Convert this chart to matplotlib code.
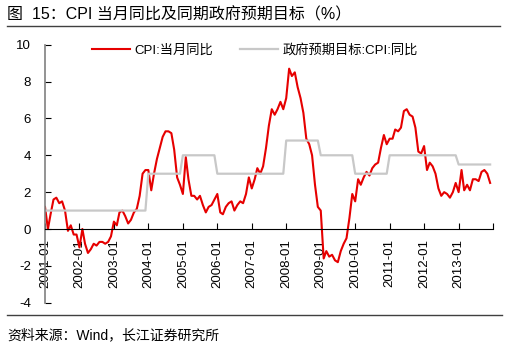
import numpy as np
import pandas as pd
import matplotlib
matplotlib.use("Agg")
import matplotlib.pyplot as plt
from matplotlib.lines import Line2D

plt.rcParams['font.family'] = ['Liberation Sans', 'Noto Sans CJK SC', 'DejaVu Sans']
plt.rcParams['axes.unicode_minus'] = False

# monthly CPI yoy, 2001-01 .. 2013-12
cpi = [
    1.2, 0.0, 0.8, 1.6, 1.7, 1.4, 1.5, 1.0, -0.1, 0.2, -0.3, -0.3,     # 2001
    -1.0, 0.0, -0.8, -1.3, -1.1, -0.8, -0.9, -0.7, -0.7, -0.8, -0.7, -0.4,  # 2002
    0.4, 0.2, 0.9, 1.0, 0.7, 0.3, 0.5, 0.9, 1.1, 1.8, 3.0, 3.2,        # 2003
    3.2, 2.1, 3.0, 3.8, 4.4, 5.0, 5.3, 5.3, 5.2, 4.3, 2.8, 2.4,        # 2004
    1.9, 3.9, 2.7, 1.8, 1.8, 1.6, 1.8, 1.3, 0.9, 1.2, 1.3, 1.6,        # 2005
    1.9, 0.9, 0.8, 1.2, 1.4, 1.5, 1.0, 1.3, 1.5, 1.4, 1.9, 2.8,        # 2006
    2.2, 2.7, 3.3, 3.0, 3.4, 4.4, 5.6, 6.5, 6.2, 6.5, 6.9, 6.5,        # 2007
    7.1, 8.7, 8.3, 8.5, 7.7, 7.1, 6.3, 4.9, 4.6, 4.0, 2.4, 1.2,        # 2008
    1.0, -1.6, -1.2, -1.5, -1.4, -1.7, -1.8, -1.2, -0.8, -0.5, 0.6, 1.9,  # 2009
    1.5, 2.7, 2.4, 2.8, 3.1, 2.9, 3.3, 3.5, 3.6, 4.4, 5.1, 4.6,        # 2010
    4.9, 4.9, 5.4, 5.3, 5.5, 6.4, 6.5, 6.2, 6.1, 5.5, 4.2, 4.1,        # 2011
    4.5, 3.2, 3.6, 3.4, 3.0, 2.2, 1.8, 2.0, 1.9, 1.7, 2.0, 2.5,        # 2012
    2.0, 3.2, 2.1, 2.4, 2.1, 2.7, 2.7, 2.6, 3.1, 3.2, 3.0, 2.5,        # 2013
]

# government CPI target by year
years = list(range(2001, 2014))
target_year = [1, 1, 1, 3, 4, 3, 3, 4.8, 4, 3, 4, 4, 3.5]
target = np.repeat(target_year, 12)

dates = pd.date_range("2001-01-01", periods=len(cpi), freq="MS")

fig = plt.figure(figsize=(5.08, 3.52), dpi=100)
ax = fig.add_axes([0.0886, 0.140, 0.882, 0.733])

ax.plot(dates, cpi, color='#e60000', lw=1.5, label='CPI:当月同比')
ax.plot(dates, target, color='#c8c8c8', lw=1.6, label='政府预期目标:CPI:同比')

ax.set_ylim(-4, 10)
ax.set_yticks(range(-4, 11, 2))
ax.set_xlim(pd.Timestamp("2001-01-01"), pd.Timestamp("2014-01-01"))

xt = [pd.Timestamp(f"{y}-01-01") for y in range(2001, 2015)]
ax.set_xticks(xt)
ax.set_xticklabels([f"{y}-01" for y in years] + [""])

for s in ['top', 'right']:
    ax.spines[s].set_visible(False)
ax.spines['bottom'].set_position(('data', 0))
ax.spines['bottom'].set_color('black')
ax.spines['left'].set_color('#808080')
ax.spines['left'].set_linewidth(1.2)

ax.tick_params(axis='y', direction='in', length=4, color='black', labelsize=9.5, pad=10)
ax.tick_params(axis='x', direction='in', length=4, color='black', pad=7,
               labelsize=9.5, labelrotation=90)

ax.legend(loc='center', bbox_to_anchor=(0.468, 0.979), ncol=2, frameon=False,
          fontsize=9.5, handlelength=2.9, handletextpad=0.3, columnspacing=2.05)

fig.text(0.014, 0.958, '图  15：CPI 当月同比及同期政府预期目标（%）', fontsize=11.5, va='center')
fig.add_artist(Line2D([0.014, 0.985], [0.926, 0.926], color='#404040', lw=1.0))
fig.add_artist(Line2D([0.014, 0.988], [0.105, 0.105], color='#404040', lw=1.0))
fig.text(0.014, 0.048, '资料来源：Wind，长江证券研究所', fontsize=10, va='center')

fig.savefig('out.png', dpi=100)
